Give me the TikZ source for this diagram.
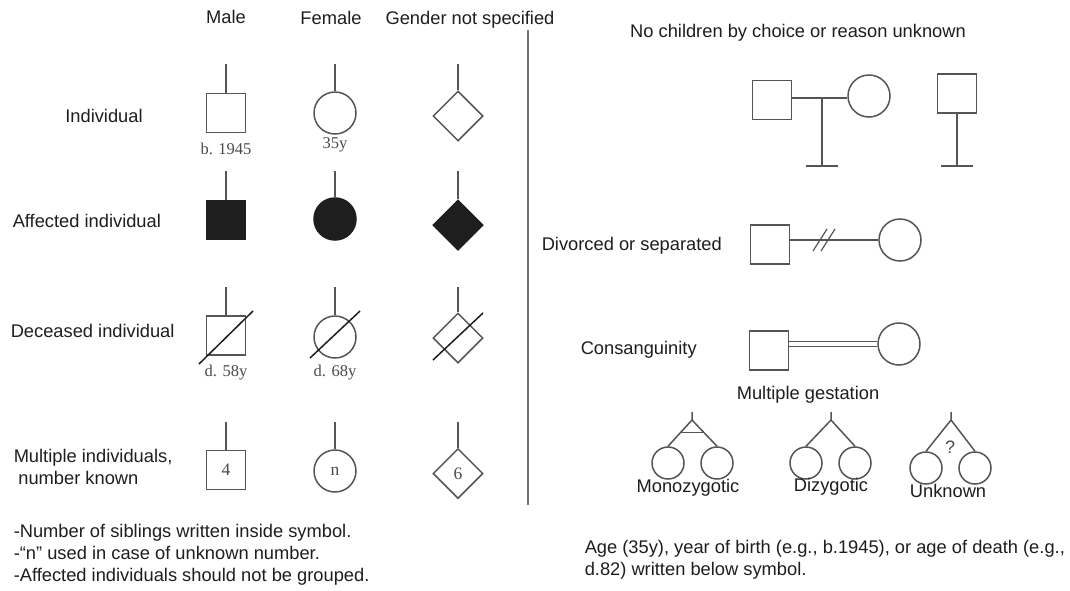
\documentclass[tikz,border=0pt]{standalone}
\usepackage{fontspec}
\setmainfont{Liberation Sans}
\newfontfamily\numfont{Liberation Serif}
\usetikzlibrary{shapes.geometric,calc}
\definecolor{ink}{HTML}{1E1E1E}
\definecolor{symgray}{HTML}{555555}
\definecolor{lblgray}{HTML}{4A4A4A}
\definecolor{rulegray}{HTML}{747474}
\begin{document}
\begin{tikzpicture}
        [x=1pt, y=-1pt, line width=1.5pt,
         txt/.style={text=ink, font=\fontsize{18.3}{22}\selectfont, inner sep=0pt},
         lbl/.style={text=lblgray, font=\numfont\fontsize{16.5}{17}\selectfont, inner sep=0pt},
         num/.style={text=lblgray, font=\numfont\fontsize{17.5}{18}\selectfont, inner sep=0pt},
         sq/.style={draw=symgray, rectangle, minimum size=39pt, inner sep=0pt},
         ci/.style={draw=symgray, circle, minimum size=42pt, inner sep=0pt},
         di/.style={draw=symgray, diamond, minimum size=50pt, inner sep=0pt},
         tw/.style={draw=symgray, circle, minimum size=32pt, inner sep=0pt},
         aff/.style={fill=ink, draw=ink},
         ln/.style={draw=symgray},
         dead/.style={draw=ink}]
        \fill [white] (0,0) rectangle (1070,590);
        % column heads
        \node [txt] (hm) at (226,17) {Male};
        \node [txt] (hf) at (331,18) {Female};
        \node [txt] (hg) at (470,20) {Gender not specified};
        % row heads
        \node [txt] (ri) at (104,116) {Individual};
        \node [txt, anchor=west] (ra) at (12,221) {Affected individual};
        \node [txt, anchor=west] (rd) at (10,331) {Deceased individual};
        \node [txt, anchor=west, align=left] (rm) at (13,467) {Multiple individuals,\\\hspace*{0.25em}number known};
        % individual
        \coordinate (t1m) at (226,64); \coordinate (t1f) at (335,64); \coordinate (t1g) at (458,64);
        \node [sq] (m1) at (226,113) {};
        \node [ci] (f1) at (335,113) {};
        \node [di] (g1) at (458,116) {};
        \draw [ln] (t1m) -- (m1); \draw [ln] (t1f) -- (f1); \draw [ln] (t1g) -- (g1);
        \node [lbl] (b1) at (226,149) {b. 1945};
        \node [lbl] (a1) at (335,145) {35y};
        % affected
        \coordinate (t2m) at (226,171); \coordinate (t2f) at (335,171); \coordinate (t2g) at (458,171);
        \node [sq, aff] (m2) at (226,220) {};
        \node [ci, aff] (f2) at (335,219) {};
        \node [di, aff] (g2) at (458,225) {};
        \draw [ln] (t2m) -- (m2); \draw [ln] (t2f) -- (f2); \draw [ln] (t2g) -- (g2);
        % deceased
        \coordinate (t3m) at (226,287); \coordinate (t3f) at (335,287); \coordinate (t3g) at (458,287);
        \node [sq] (m3) at (226,335.5) {};
        \node [ci] (f3) at (335,337) {};
        \node [di] (g3) at (458,338) {};
        \draw [ln] (t3m) -- (m3); \draw [ln] (t3f) -- (f3); \draw [ln] (t3g) -- (g3);
        \draw [dead] (m3) ++(-27,28.5) -- ++(54,-53);
        \draw [dead] (f3) ++(-25,21) -- ++(50,-47);
        \draw [dead] (g3) ++(-25,22) -- ++(50,-47);
        \node [lbl] (d3m) at (226,373) {d. 58y};
        \node [lbl] (d3f) at (335,373) {d. 68y};
        % multiple
        \coordinate (t4m) at (226,422); \coordinate (t4f) at (335,422); \coordinate (t4g) at (458,422);
        \node [sq, num] (m4) at (226,470) {4};
        \node [ci, num] (f4) at (335,471) {n};
        \node [di, num] (g4) at (458,473.5) {6};
        \draw [ln] (t4m) -- (m4); \draw [ln] (t4f) -- (f4); \draw [ln] (t4g) -- (g4);
        \node [txt, anchor=west, align=left] (nt) at (13,555) {-Number of siblings written inside symbol.\\-“n” used in case of unknown number.\\-Affected individuals should not be grouped.};
        % divider
        \draw [rulegray, line width=2pt] (528,30) -- (528,505);
        % no children
        \node [txt] (hn) at (798,33) {No children by choice or reason unknown};
        \coordinate (ncj) at (822,98); \coordinate (nce) at (822,166);
        \node [sq] (ncm) at (772,100) {};
        \node [ci] (ncf) at (869,96) {};
        \draw [ln] (ncm.east |- ncj) -- (ncf.west |- ncj);
        \draw [ln] (ncj) -- (nce);
        \draw [ln] (nce) ++(-16,0) -- ++(32,0);
        \node [sq] (nsm) at (957,93.5) {};
        \coordinate (nse) at (957,166);
        \draw [ln] (nsm) -- (nse);
        \draw [ln] (nse) ++(-16,0) -- ++(32,0);
        % divorced
        \node [txt, anchor=west] (hd) at (541,246) {Divorced or separated};
        \node [sq] (dvm) at (770,244.5) {};
        \node [ci] (dvf) at (900,240) {};
        \draw [ln] (dvm.east |- dvf) -- (dvf.west);
        \coordinate (dvs) at (824,240);
        \draw [ln, line width=1.2pt] (dvs) ++(-11,11) -- ++(14,-22);
        \draw [ln, line width=1.2pt] (dvs) ++(-3,11) -- ++(14,-22);
        % consanguinity
        \node [txt, anchor=west] (hc) at (580,350) {Consanguinity};
        \node [sq] (csm) at (769,350.5) {};
        \node [ci] (csf) at (899,344) {};
        \draw [ln, line width=1.2pt, double=white, double distance=3.4pt] (csm.east |- csf) -- (csf.west);
        % multiple gestation
        \node [txt] (hmg) at (808,395) {Multiple gestation};
        \coordinate (mzt) at (692,412); \coordinate (mza) at (692,420);
        \node [tw] (mzl) at (668,463) {};
        \node [tw] (mzr) at (717,463) {};
        \draw [ln] (mzt) -- (mza) -- (mzl.north);
        \draw [ln] (mza) -- (mzr.north);
        \draw [ln] ($(mza)!0.48!(mzl.north)$) -- ($(mza)!0.48!(mzr.north)$);
        \node [txt] (mzn) at (688,488) {Monozygotic};
        \coordinate (dzt) at (831,412); \coordinate (dza) at (831,420);
        \node [tw] (dzl) at (806,463) {};
        \node [tw] (dzr) at (855,463) {};
        \draw [ln] (dzt) -- (dza) -- (dzl.north);
        \draw [ln] (dza) -- (dzr.north);
        \node [txt] (dzn) at (831,487) {Dizygotic};
        \coordinate (unt) at (951,412); \coordinate (una) at (951,420);
        \node [tw] (unl) at (926,468) {};
        \node [tw] (unr) at (975,468) {};
        \draw [ln] (unt) -- (una) -- (unl.north);
        \draw [ln] (una) -- (unr.north);
        \node [txt, text=lblgray, font=\fontsize{18}{18}\selectfont] (unq) at (950,447) {?};
        \node [txt] (unn) at (948,491) {Unknown};
        % note
        \node [txt, anchor=west, align=left] (ag) at (584,559.5) {Age (35y), year of birth (e.g., b.1945), or age of death (e.g.,\\d.82) written below symbol.};
\end{tikzpicture}
\end{document}
